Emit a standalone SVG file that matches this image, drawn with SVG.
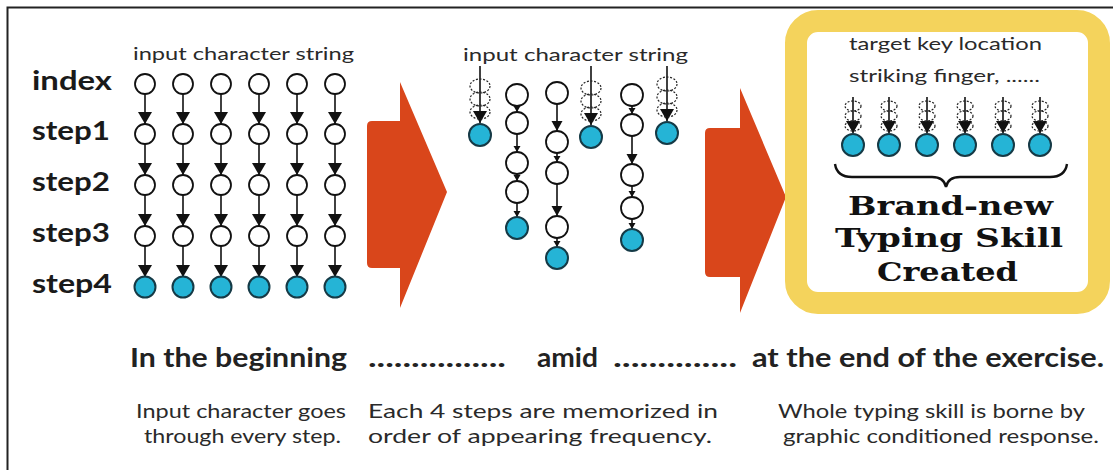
<svg xmlns="http://www.w3.org/2000/svg" width="1113" height="470" viewBox="0 0 1113 470">
<defs>
<style>
.lbl{font-family:Lato,"Open Sans","Liberation Sans",sans-serif;font-weight:bold;font-size:27px;fill:#1a1a1a}
.sm{font-family:Lato,"Open Sans","Liberation Sans",sans-serif;font-size:18px;fill:#2a2a2a}
.cap{font-family:Lato,"Open Sans","Liberation Sans",sans-serif;font-size:19px;fill:#2a2a2a}
.hd{font-family:Lato,"Open Sans","Liberation Sans",sans-serif;font-weight:bold;font-size:26px;fill:#222}
.deco{font-family:"DejaVu Serif","Liberation Serif",serif;font-weight:bold;font-size:26px;fill:#111}
.w{fill:#fff;stroke:#111;stroke-width:1.8}
.c{fill:#25b4d6;stroke:#153a46;stroke-width:2}
.e{stroke:#111;stroke-width:1.6;fill:none}
.g{fill:none;stroke:#222;stroke-width:1.2;stroke-dasharray:2 1.6}
</style>
<marker id="big" markerUnits="userSpaceOnUse" markerWidth="14" markerHeight="14" refX="12" refY="7" orient="auto"><path d="M0,0 L12,7 L0,14 z" fill="#111"/></marker>
<marker id="med" markerUnits="userSpaceOnUse" markerWidth="12" markerHeight="12" refX="10" refY="5.5" orient="auto"><path d="M0,0 L10,5.5 L0,11 z" fill="#111"/></marker>
<marker id="sml" markerUnits="userSpaceOnUse" markerWidth="8" markerHeight="8" refX="6" refY="3.5" orient="auto"><path d="M0,0 L6,3.5 L0,7 z" fill="#111"/></marker>
</defs>
<rect width="1113" height="470" fill="#fff"/>
<path d="M7.5,470 V7.5 H1113" fill="none" stroke="#222" stroke-width="2"/>

<g id="big-arrow-1"><path d="M372,121 H400 V82 L447,192 L400,308 V268 H372 Q367,268 367,263 V126 Q367,121 372,121 z" fill="#d9461b"/></g>
<g id="big-arrow-2"><path d="M710,128 H740 V88 L786,197 L740,313 V277 H710 Q705,277 705,272 V133 Q705,128 710,128 z" fill="#d9461b"/></g>
<g id="skill-box"><rect x="796" y="21" width="303" height="282" rx="22" fill="#fff" stroke="#f4d35c" stroke-width="22"/></g>

<g id="row-labels">
<text class="lbl" x="32" y="90" textLength="80" lengthAdjust="spacingAndGlyphs">index</text>
<text class="lbl" x="32" y="140" textLength="78" lengthAdjust="spacingAndGlyphs">step1</text>
<text class="lbl" x="32" y="191" textLength="78" lengthAdjust="spacingAndGlyphs">step2</text>
<text class="lbl" x="32" y="242" textLength="78" lengthAdjust="spacingAndGlyphs">step3</text>
<text class="lbl" x="32" y="293" textLength="80" lengthAdjust="spacingAndGlyphs">step4</text>
</g>
<g id="title-left"><text class="sm" x="133" y="60" textLength="221" lengthAdjust="spacingAndGlyphs">input character string</text></g>
<g id="title-mid"><text class="sm" x="463" y="61" textLength="225" lengthAdjust="spacingAndGlyphs">input character string</text></g>
<g id="box-title">
<text class="sm" x="849" y="50" textLength="193" lengthAdjust="spacingAndGlyphs">target key location</text>
<text class="sm" x="849" y="82" textLength="191" lengthAdjust="spacingAndGlyphs">striking finger, ......</text>
</g>

<g id="connectors">
<g class="e" marker-end="url(#big)">
<line x1="145" y1="94" x2="145" y2="124"/><line x1="145" y1="144" x2="145" y2="175"/><line x1="145" y1="195" x2="145" y2="226"/><line x1="145" y1="246" x2="145" y2="277"/>
<line x1="183" y1="94" x2="183" y2="124"/><line x1="183" y1="144" x2="183" y2="175"/><line x1="183" y1="195" x2="183" y2="226"/><line x1="183" y1="246" x2="183" y2="277"/>
<line x1="221" y1="94" x2="221" y2="124"/><line x1="221" y1="144" x2="221" y2="175"/><line x1="221" y1="195" x2="221" y2="226"/><line x1="221" y1="246" x2="221" y2="277"/>
<line x1="259" y1="94" x2="259" y2="124"/><line x1="259" y1="144" x2="259" y2="175"/><line x1="259" y1="195" x2="259" y2="226"/><line x1="259" y1="246" x2="259" y2="277"/>
<line x1="297" y1="94" x2="297" y2="124"/><line x1="297" y1="144" x2="297" y2="175"/><line x1="297" y1="195" x2="297" y2="226"/><line x1="297" y1="246" x2="297" y2="277"/>
<line x1="335" y1="94" x2="335" y2="124"/><line x1="335" y1="144" x2="335" y2="175"/><line x1="335" y1="195" x2="335" y2="226"/><line x1="335" y1="246" x2="335" y2="277"/>
</g>
<g class="e" marker-end="url(#sml)">
<line x1="517" y1="106" x2="517" y2="112"/><line x1="517" y1="134" x2="517" y2="152"/><line x1="517" y1="174" x2="517" y2="181"/><line x1="517" y1="203" x2="517" y2="217"/>
<line x1="557" y1="153" x2="557" y2="162"/><line x1="557" y1="238" x2="557" y2="247"/>
<line x1="632" y1="106" x2="632" y2="114"/><line x1="632" y1="186" x2="632" y2="197"/><line x1="632" y1="219" x2="632" y2="229"/>
</g>
<g class="e" marker-end="url(#med)">
<line x1="557" y1="104" x2="557" y2="131"/><line x1="557" y1="184" x2="557" y2="216"/>
<line x1="632" y1="136" x2="632" y2="164"/>
</g>
<g class="e" marker-end="url(#big)">
<line x1="480" y1="66" x2="480" y2="123"/><line x1="591" y1="66" x2="591" y2="125"/><line x1="667" y1="66" x2="667" y2="121"/>
<line x1="853" y1="97" x2="853" y2="133"/><line x1="889" y1="97" x2="889" y2="133"/><line x1="927" y1="97" x2="927" y2="133"/>
<line x1="965" y1="97" x2="965" y2="133"/><line x1="1003" y1="97" x2="1003" y2="133"/><line x1="1040" y1="97" x2="1040" y2="133"/>
</g>
</g>

<g id="left-grid">
<g id="n-c1"><circle class="w" cx="145" cy="84" r="10"/><circle class="w" cx="145" cy="134" r="10"/><circle class="w" cx="145" cy="185" r="10"/><circle class="w" cx="145" cy="236" r="10"/><circle class="c" cx="145" cy="287" r="10.5"/></g>
<g id="n-c2"><circle class="w" cx="183" cy="84" r="10"/><circle class="w" cx="183" cy="134" r="10"/><circle class="w" cx="183" cy="185" r="10"/><circle class="w" cx="183" cy="236" r="10"/><circle class="c" cx="183" cy="287" r="10.5"/></g>
<g id="n-c3"><circle class="w" cx="221" cy="84" r="10"/><circle class="w" cx="221" cy="134" r="10"/><circle class="w" cx="221" cy="185" r="10"/><circle class="w" cx="221" cy="236" r="10"/><circle class="c" cx="221" cy="287" r="10.5"/></g>
<g id="n-c4"><circle class="w" cx="259" cy="84" r="10"/><circle class="w" cx="259" cy="134" r="10"/><circle class="w" cx="259" cy="185" r="10"/><circle class="w" cx="259" cy="236" r="10"/><circle class="c" cx="259" cy="287" r="10.5"/></g>
<g id="n-c5"><circle class="w" cx="297" cy="84" r="10"/><circle class="w" cx="297" cy="134" r="10"/><circle class="w" cx="297" cy="185" r="10"/><circle class="w" cx="297" cy="236" r="10"/><circle class="c" cx="297" cy="287" r="10.5"/></g>
<g id="n-c6"><circle class="w" cx="335" cy="84" r="10"/><circle class="w" cx="335" cy="134" r="10"/><circle class="w" cx="335" cy="185" r="10"/><circle class="w" cx="335" cy="236" r="10"/><circle class="c" cx="335" cy="287" r="10.5"/></g>
</g>

<g id="mid-grid">
<g id="m-c1"><ellipse class="g" cx="480" cy="86" rx="10" ry="7"/><ellipse class="g" cx="480" cy="99" rx="10" ry="7"/><ellipse class="g" cx="480" cy="112" rx="10" ry="7"/><circle class="c" cx="480" cy="135" r="11"/></g>
<g id="m-c2"><circle class="w" cx="517" cy="95" r="11"/><circle class="w" cx="517" cy="123" r="11"/><circle class="w" cx="517" cy="163" r="11"/><circle class="w" cx="517" cy="192" r="11"/><circle class="c" cx="517" cy="228" r="11"/></g>
<g id="m-c3"><circle class="w" cx="557" cy="93" r="11"/><circle class="w" cx="557" cy="142" r="11"/><circle class="w" cx="557" cy="173" r="11"/><circle class="w" cx="557" cy="227" r="11"/><circle class="c" cx="557" cy="258" r="11"/></g>
<g id="m-c4"><ellipse class="g" cx="591" cy="88" rx="10" ry="7"/><ellipse class="g" cx="591" cy="101" rx="10" ry="7"/><ellipse class="g" cx="591" cy="114" rx="10" ry="7"/><circle class="c" cx="591" cy="137" r="11"/></g>
<g id="m-c5"><circle class="w" cx="632" cy="95" r="11"/><circle class="w" cx="632" cy="125" r="11"/><circle class="w" cx="632" cy="175" r="11"/><circle class="w" cx="632" cy="208" r="11"/><circle class="c" cx="632" cy="240" r="11"/></g>
<g id="m-c6"><ellipse class="g" cx="667" cy="84" rx="10" ry="7"/><ellipse class="g" cx="667" cy="97" rx="10" ry="7"/><ellipse class="g" cx="667" cy="110" rx="10" ry="7"/><circle class="c" cx="667" cy="133" r="11"/></g>
</g>

<g id="box-grid">
<g id="b-c1"><ellipse class="g" cx="853" cy="106" rx="8" ry="5"/><ellipse class="g" cx="853" cy="116" rx="8" ry="5"/><ellipse class="g" cx="853" cy="126" rx="8" ry="5"/><circle class="c" cx="853" cy="145" r="11"/></g>
<g id="b-c2"><ellipse class="g" cx="889" cy="106" rx="8" ry="5"/><ellipse class="g" cx="889" cy="116" rx="8" ry="5"/><ellipse class="g" cx="889" cy="126" rx="8" ry="5"/><circle class="c" cx="889" cy="145" r="11"/></g>
<g id="b-c3"><ellipse class="g" cx="927" cy="106" rx="8" ry="5"/><ellipse class="g" cx="927" cy="116" rx="8" ry="5"/><ellipse class="g" cx="927" cy="126" rx="8" ry="5"/><circle class="c" cx="927" cy="145" r="11"/></g>
<g id="b-c4"><ellipse class="g" cx="965" cy="106" rx="8" ry="5"/><ellipse class="g" cx="965" cy="116" rx="8" ry="5"/><ellipse class="g" cx="965" cy="126" rx="8" ry="5"/><circle class="c" cx="965" cy="145" r="11"/></g>
<g id="b-c5"><ellipse class="g" cx="1003" cy="106" rx="8" ry="5"/><ellipse class="g" cx="1003" cy="116" rx="8" ry="5"/><ellipse class="g" cx="1003" cy="126" rx="8" ry="5"/><circle class="c" cx="1003" cy="145" r="11"/></g>
<g id="b-c6"><ellipse class="g" cx="1040" cy="106" rx="8" ry="5"/><ellipse class="g" cx="1040" cy="116" rx="8" ry="5"/><ellipse class="g" cx="1040" cy="126" rx="8" ry="5"/><circle class="c" cx="1040" cy="145" r="11"/></g>
</g>

<g id="brace"><path d="M835,164 Q837,177 852,177 L932,177 Q944,177 946,187 Q948,177 960,177 L1050,177 Q1065,177 1067,164" fill="none" stroke="#111" stroke-width="2.4"/></g>
<g id="skill-text">
<text class="deco" x="848" y="215" textLength="205" lengthAdjust="spacingAndGlyphs">Brand-new</text>
<text class="deco" x="835" y="247" textLength="228" lengthAdjust="spacingAndGlyphs">Typing Skill</text>
<text class="deco" x="877" y="281" textLength="141" lengthAdjust="spacingAndGlyphs">Created</text>
</g>

<g id="timeline">
<text class="hd" x="130" y="367" textLength="217" lengthAdjust="spacingAndGlyphs">In the beginning</text>
<text class="hd" x="368" y="367" textLength="138" lengthAdjust="spacingAndGlyphs">................</text>
<text class="hd" x="537" y="367" textLength="61" lengthAdjust="spacingAndGlyphs">amid</text>
<text class="hd" x="613" y="367" textLength="124" lengthAdjust="spacingAndGlyphs">..............</text>
<text class="hd" x="752" y="367" textLength="352" lengthAdjust="spacingAndGlyphs">at the end of the exercise.</text>
</g>
<g id="captions">
<text class="cap" x="136" y="418" textLength="210" lengthAdjust="spacingAndGlyphs">Input character goes</text>
<text class="cap" x="144" y="443" textLength="197" lengthAdjust="spacingAndGlyphs">through every step.</text>
<text class="cap" x="368" y="418" textLength="350" lengthAdjust="spacingAndGlyphs">Each 4 steps are memorized in</text>
<text class="cap" x="368" y="443" textLength="344" lengthAdjust="spacingAndGlyphs">order of appearing frequency.</text>
<text class="cap" x="778" y="418" textLength="307" lengthAdjust="spacingAndGlyphs">Whole typing skill is borne by</text>
<text class="cap" x="783" y="443" textLength="316" lengthAdjust="spacingAndGlyphs">graphic conditioned response.</text>
</g>
</svg>
